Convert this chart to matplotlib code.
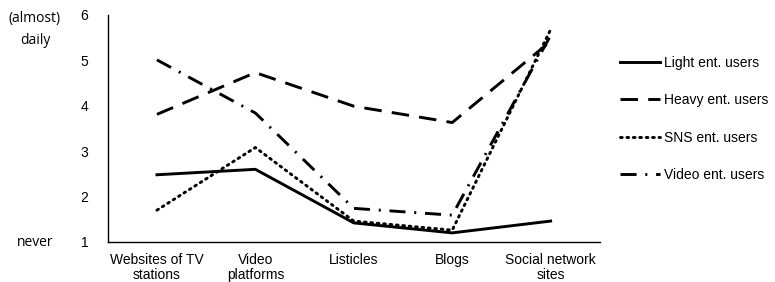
import matplotlib
matplotlib.use("Agg")
import matplotlib.pyplot as plt
import numpy as np

categories = ["Websites of TV\nstations", "Video\nplatforms", "Listicles", "Blogs", "Social network\nsites"]
light = [2.48, 2.60, 1.42, 1.20, 1.46]
heavy = [3.81, 4.73, 3.99, 3.63, 5.42]
sns_users = [1.70, 3.08, 1.46, 1.26, 5.68]
video = [5.01, 3.84, 1.74, 1.59, 5.55]
series_names = ["Light ent. users", "Heavy ent. users", "SNS ent. users", "Video ent. users"]
yticks = [1, 2, 3, 4, 5, 6]

plt.rcParams['font.family'] = ['Liberation Sans', 'DejaVu Sans']

fig = plt.figure(figsize=(7.75, 2.82), dpi=100)
ax = fig.add_axes([0.139, 0.142, 0.635, 0.805])

x = np.arange(len(categories)) + 0.5
lw = 2.1
ax.plot(x, light, color='black', lw=lw, linestyle='-', label=series_names[0])
ax.plot(x, heavy, color='black', lw=lw, linestyle=(0, (6, 3.5)), label=series_names[1])
ax.plot(x, sns_users, color='black', lw=lw, linestyle=(0, (0.6, 1.6)), dash_capstyle='round', label=series_names[2])
ax.plot(x, video, color='black', lw=lw, linestyle=(0, (5.5, 3, 0.7, 3)), label=series_names[3])

ax.set_xlim(0, len(categories))
ax.set_ylim(1, 6)
ax.set_xticks(x)
ax.set_xticklabels(categories, fontsize=10, linespacing=1.05)
ax.set_yticks(yticks)
ax.set_yticklabels([str(t) for t in yticks], fontsize=10)
ax.tick_params(length=0, pad=8)
ax.tick_params(axis='y', pad=14)
for s in ['top', 'right']:
    ax.spines[s].set_visible(False)
ax.spines['left'].set_linewidth(1.0)
ax.spines['bottom'].set_linewidth(1.0)

fig.text(35 / 775, 1 - 29.5 / 282, "(almost)\ndaily", ha='center', va='center', fontsize=10,
         family=['Open Sans', 'DejaVu Sans'], linespacing=1.6)
fig.text(35 / 775, 1 - 242 / 282, "never", ha='center', va='center', fontsize=10,
         family=['Open Sans', 'DejaVu Sans'])

leg = ax.legend(loc='upper left', bbox_to_anchor=(620 / 775, 1 - 55.5 / 282), bbox_transform=fig.transFigure,
                frameon=False, fontsize=10, handlelength=2.9, handletextpad=0.25, labelspacing=1.7,
                borderaxespad=0, borderpad=0)

fig.savefig("out.png", dpi=100)
